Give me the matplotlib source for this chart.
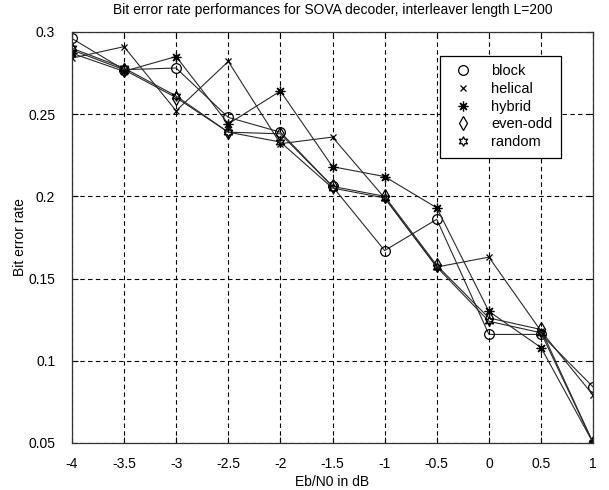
import matplotlib
matplotlib.use("Agg")
import matplotlib.pyplot as plt

ebn0 = [-4, -3.5, -3, -2.5, -2, -1.5, -1, -0.5, 0, 0.5, 1]
block = [0.296, 0.277, 0.278, 0.248, 0.239, 0.206, 0.167, 0.186, 0.116, 0.116, 0.084]
helical = [0.284, 0.291, 0.252, 0.282, 0.232, 0.236, 0.199, 0.157, 0.163, 0.118, 0.079]
hybrid = [0.287, 0.276, 0.285, 0.244, 0.264, 0.218, 0.212, 0.193, 0.130, 0.108, 0.050]
even_odd = [0.289, 0.277, 0.260, 0.239, 0.238, 0.206, 0.200, 0.158, 0.126, 0.119, 0.050]
random_ = [0.290, 0.278, 0.261, 0.239, 0.233, 0.205, 0.199, 0.157, 0.124, 0.117, 0.050]

labels = ["block", "helical", "hybrid", "even-odd", "random"]
xticks = [-4, -3.5, -3, -2.5, -2, -1.5, -1, -0.5, 0, 0.5, 1]
xticklabels = ["-4", "-3.5", "-3", "-2.5", "-2", "-1.5", "-1", "-0.5", "0", "0.5", "1"]
yticks = [0.05, 0.1, 0.15, 0.2, 0.25, 0.3]
yticklabels = ["0.05", "0.1", "0.15", "0.2", "0.25", "0.3"]

plt.rcParams['font.family'] = ['Liberation Sans', 'DejaVu Sans']
plt.rcParams['font.size'] = 10

fig = plt.figure(figsize=(6.09, 4.90), dpi=100)
ax = fig.add_axes([0.118, 0.096, 0.856, 0.839])

series = [block, helical, hybrid, even_odd, random_]
markers = ['o', 'x', (8, 2, 0), 'd', (6, 1, 0)]
sizes = [7, 5, 7, 7, 7]
for ys, lab, m, s in zip(series, labels, markers, sizes):
    ax.plot(ebn0, ys, color='#2a2a2a', linewidth=0.8, marker=m, markersize=s,
            markerfacecolor='none', markeredgecolor='black', markeredgewidth=0.9,
            label=lab)

ax.set_xlim(-4, 1)
ax.set_ylim(0.05, 0.3)
ax.set_xticks(xticks)
ax.set_xticklabels(xticklabels)
ax.set_yticks(yticks)
ax.set_yticklabels(yticklabels)
ax.tick_params(direction='in', length=4, top=True, right=True, width=0.8)
ax.tick_params(axis='x', pad=10)
ax.tick_params(axis='y', pad=12)
ax.grid(True, color='black', linestyle=(0, (4, 3)), linewidth=0.8)
for sp in ax.spines.values():
    sp.set_linewidth(0.9)
    sp.set_color('#333333')

ax.set_title("Bit error rate performances for SOVA decoder, interleaver length L=200",
             fontsize=10, pad=13)
ax.set_xlabel("Eb/N0 in dB", labelpad=3)
ax.set_ylabel("Bit error rate", labelpad=1)

leg = ax.legend(loc='upper left', bbox_to_anchor=(0.706, 0.942), borderaxespad=0,
                fancybox=False, framealpha=1, edgecolor='black', borderpad=0.6,
                labelspacing=0.25, handlelength=2.0, handletextpad=0.9, fontsize=10.5)
leg.get_frame().set_linewidth(0.9)
for line in leg.get_lines():
    line.set_linestyle('none')

fig.savefig("out.png", dpi=100, facecolor='white')
